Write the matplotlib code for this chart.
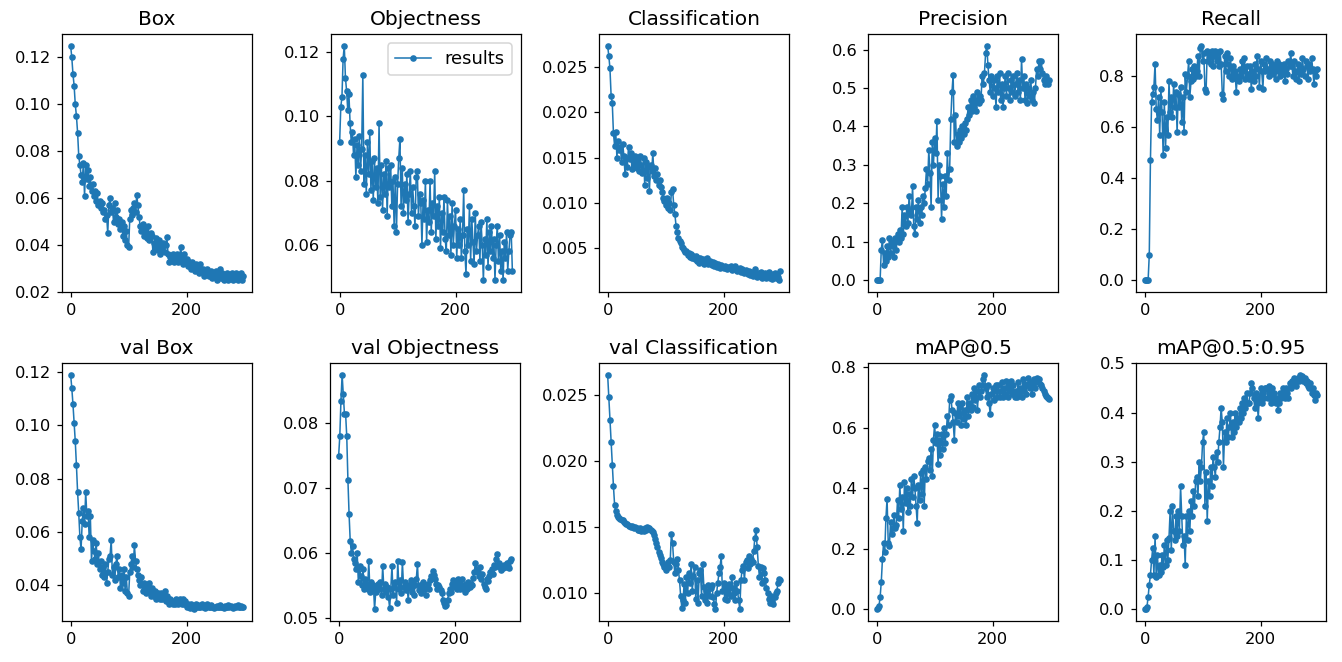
import matplotlib
matplotlib.use("Agg")
import matplotlib.pyplot as plt
from matplotlib.ticker import MultipleLocator

epochs = list(range(0, 300, 2))

titles = ["Box", "Objectness", "Classification", "Precision", "Recall",
          "val Box", "val Objectness", "val Classification", "mAP@0.5", "mAP@0.5:0.95"]

box = [0.125, 0.120, 0.113, 0.108, 0.100, 0.095, 0.088, 0.078, 0.074, 0.070, 0.067, 0.075, 0.061, 0.074, 0.068,
       0.072, 0.065, 0.069, 0.063, 0.066, 0.061, 0.063, 0.059, 0.062, 0.057, 0.059, 0.056, 0.058, 0.054, 0.055,
       0.051, 0.053, 0.045, 0.057, 0.060, 0.054, 0.056, 0.050, 0.058, 0.052, 0.055, 0.049, 0.051, 0.047, 0.050,
       0.044, 0.048, 0.042, 0.046, 0.040, 0.039, 0.051, 0.055, 0.053, 0.056, 0.058, 0.054, 0.0615, 0.057, 0.052,
       0.048, 0.046, 0.049, 0.044, 0.047, 0.045, 0.043, 0.048, 0.042, 0.045, 0.044, 0.037, 0.041, 0.039, 0.043,
       0.038, 0.042, 0.036, 0.040, 0.038, 0.041, 0.037, 0.040, 0.0435, 0.036, 0.033, 0.035, 0.034, 0.036, 0.033,
       0.035, 0.034, 0.036, 0.033, 0.035, 0.039, 0.034, 0.032, 0.036, 0.033, 0.034, 0.031, 0.033, 0.032, 0.030,
       0.033, 0.031, 0.029, 0.032, 0.030, 0.031, 0.028, 0.032, 0.029, 0.030, 0.027, 0.029, 0.028, 0.030, 0.027,
       0.028, 0.029, 0.026, 0.028, 0.027, 0.029, 0.025, 0.028, 0.027, 0.030, 0.026, 0.028, 0.025, 0.027, 0.026,
       0.028, 0.025, 0.027, 0.026, 0.028, 0.025, 0.027, 0.026, 0.028, 0.025, 0.027, 0.026, 0.028, 0.025, 0.027]

objectness = [0.092, 0.103, 0.106, 0.118, 0.122, 0.112, 0.108, 0.102, 0.107, 0.098, 0.092, 0.095, 0.088, 0.093, 0.081,
              0.091, 0.085, 0.094, 0.083, 0.090, 0.113, 0.079, 0.088, 0.076, 0.092, 0.082, 0.095, 0.077, 0.086, 0.074,
              0.087, 0.078, 0.084, 0.073, 0.098, 0.075, 0.085, 0.071, 0.082, 0.076, 0.086, 0.069, 0.084, 0.078, 0.085,
              0.072, 0.080, 0.066, 0.081, 0.064, 0.079, 0.087, 0.093, 0.072, 0.084, 0.070, 0.079, 0.074, 0.082, 0.067,
              0.076, 0.083, 0.070, 0.078, 0.072, 0.066, 0.081, 0.083, 0.069, 0.076, 0.073, 0.060, 0.074, 0.068, 0.080,
              0.061, 0.071, 0.067, 0.080, 0.064, 0.073, 0.069, 0.083, 0.062, 0.072, 0.066, 0.075, 0.059, 0.070, 0.064,
              0.075, 0.062, 0.058, 0.074, 0.063, 0.069, 0.057, 0.073, 0.060, 0.066, 0.071, 0.056, 0.065, 0.060, 0.068,
              0.056, 0.063, 0.077, 0.058, 0.051, 0.065, 0.060, 0.072, 0.055, 0.068, 0.061, 0.054, 0.070, 0.058, 0.063,
              0.066, 0.055, 0.067, 0.060, 0.049, 0.062, 0.057, 0.068, 0.053, 0.064, 0.058, 0.066, 0.056, 0.062, 0.049,
              0.060, 0.066, 0.055, 0.063, 0.052, 0.058, 0.049, 0.061, 0.056, 0.064, 0.052, 0.058, 0.063, 0.064, 0.052]

classification = [0.0273, 0.0262, 0.0248, 0.0218, 0.0210, 0.0177, 0.0163, 0.0178, 0.0150, 0.0168, 0.0158, 0.0162, 0.0145, 0.0165, 0.0152,
                  0.0132, 0.0150, 0.0140, 0.0162, 0.0148, 0.0155, 0.0137, 0.0150, 0.0143, 0.0152, 0.0138, 0.0148, 0.0135, 0.0152, 0.0142,
                  0.0133, 0.0150, 0.0120, 0.0145, 0.0128, 0.0140, 0.0113, 0.0142, 0.0135, 0.0155, 0.0130, 0.0138, 0.0125, 0.0132, 0.0120,
                  0.0125, 0.0118, 0.0112, 0.0106, 0.0102, 0.0098, 0.0105, 0.0095, 0.0100, 0.0092, 0.0112, 0.0115, 0.0098, 0.0088, 0.0075,
                  0.0068, 0.0062, 0.0058, 0.0056, 0.0052, 0.0050, 0.0048, 0.0046, 0.0047, 0.0043, 0.0045, 0.0041, 0.0044, 0.0040, 0.0042,
                  0.0038, 0.0042, 0.0036, 0.0039, 0.0034, 0.0040, 0.0036, 0.0038, 0.0033, 0.0037, 0.0035, 0.0039, 0.0033, 0.0036, 0.0034,
                  0.0032, 0.0035, 0.0031, 0.0034, 0.0030, 0.0033, 0.0031, 0.0029, 0.0032, 0.0030, 0.0028, 0.0031, 0.0029, 0.0027, 0.0030,
                  0.0028, 0.0031, 0.0026, 0.0029, 0.0027, 0.0031, 0.0028, 0.0025, 0.0027, 0.0029, 0.0024, 0.0027, 0.0025, 0.0023, 0.0026,
                  0.0024, 0.0022, 0.0025, 0.0021, 0.0024, 0.0020, 0.0023, 0.0027, 0.0021, 0.0019, 0.0023, 0.0020, 0.0024, 0.0018, 0.0022,
                  0.0019, 0.0023, 0.0017, 0.0021, 0.0024, 0.0018, 0.0022, 0.0016, 0.0020, 0.0023, 0.0017, 0.0021, 0.0019, 0.0015, 0.0025]

precision = [0.0, 0.0, 0.0, 0.0, 0.08, 0.105, 0.04, 0.07, 0.05, 0.09, 0.06, 0.11, 0.07, 0.10, 0.09,
             0.06, 0.11, 0.08, 0.12, 0.10, 0.13, 0.11, 0.19, 0.12, 0.17, 0.14, 0.19, 0.15, 0.22, 0.18,
             0.17, 0.245, 0.14, 0.12, 0.19, 0.16, 0.21, 0.15, 0.19, 0.17, 0.22, 0.20, 0.24, 0.29, 0.25,
             0.34, 0.28, 0.19, 0.36, 0.30, 0.37, 0.33, 0.415, 0.21, 0.30, 0.27, 0.16, 0.25, 0.19, 0.27,
             0.22, 0.33, 0.26, 0.29, 0.42, 0.49, 0.535, 0.36, 0.43, 0.35, 0.38, 0.36, 0.39, 0.37, 0.40,
             0.38, 0.41, 0.39, 0.42, 0.45, 0.43, 0.47, 0.44, 0.48, 0.45, 0.47, 0.44, 0.49, 0.46, 0.48,
             0.47, 0.53, 0.51, 0.54, 0.59, 0.61, 0.56, 0.52, 0.49, 0.53, 0.48, 0.52, 0.50, 0.45, 0.53,
             0.49, 0.54, 0.47, 0.51, 0.45, 0.50, 0.53, 0.48, 0.54, 0.50, 0.47, 0.52, 0.49, 0.53, 0.48,
             0.51, 0.54, 0.49, 0.52, 0.47, 0.575, 0.50, 0.53, 0.47, 0.51, 0.46, 0.50, 0.48, 0.52, 0.47,
             0.49, 0.46, 0.50, 0.55, 0.53, 0.57, 0.55, 0.57, 0.54, 0.52, 0.51, 0.53, 0.52, 0.51, 0.52]

recall = [0.0, 0.0, 0.0, 0.0, 0.10, 0.47, 0.70, 0.73, 0.76, 0.85, 0.67, 0.63, 0.72, 0.57, 0.75,
          0.66, 0.49, 0.70, 0.52, 0.64, 0.57, 0.78, 0.66, 0.72, 0.64, 0.77, 0.68, 0.74, 0.58, 0.73,
          0.68, 0.76, 0.62, 0.72, 0.58, 0.81, 0.74, 0.80, 0.86, 0.72, 0.78, 0.83, 0.79, 0.84, 0.80,
          0.82, 0.88, 0.80, 0.91, 0.92, 0.86, 0.89, 0.75, 0.74, 0.90, 0.86, 0.89, 0.85, 0.90, 0.84,
          0.88, 0.90, 0.86, 0.89, 0.84, 0.90, 0.85, 0.73, 0.71, 0.88, 0.82, 0.89, 0.85, 0.80, 0.87,
          0.79, 0.84, 0.80, 0.82, 0.74, 0.80, 0.78, 0.83, 0.80, 0.86, 0.82, 0.87, 0.79, 0.84, 0.81,
          0.79, 0.84, 0.75, 0.82, 0.78, 0.85, 0.80, 0.88, 0.83, 0.76, 0.86, 0.82, 0.75, 0.85, 0.82,
          0.87, 0.83, 0.80, 0.86, 0.82, 0.85, 0.81, 0.84, 0.79, 0.86, 0.82, 0.85, 0.80, 0.84, 0.81,
          0.85, 0.78, 0.83, 0.81, 0.86, 0.84, 0.89, 0.84, 0.80, 0.86, 0.82, 0.79, 0.85, 0.78, 0.83,
          0.81, 0.87, 0.83, 0.80, 0.86, 0.84, 0.79, 0.85, 0.82, 0.87, 0.83, 0.77, 0.82, 0.80, 0.83]

val_box = [0.119, 0.114, 0.108, 0.101, 0.094, 0.085, 0.075, 0.067, 0.058, 0.0535, 0.064, 0.069, 0.063, 0.075, 0.066,
           0.068, 0.058, 0.066, 0.049, 0.057, 0.053, 0.050, 0.056, 0.048, 0.052, 0.046, 0.049, 0.044, 0.047, 0.043,
           0.048, 0.041, 0.045, 0.050, 0.051, 0.057, 0.044, 0.047, 0.042, 0.048, 0.051, 0.043, 0.046, 0.039, 0.044,
           0.041, 0.046, 0.038, 0.043, 0.037, 0.036, 0.045, 0.048, 0.051, 0.047, 0.055, 0.049, 0.046, 0.044, 0.042,
           0.040, 0.043, 0.038, 0.041, 0.039, 0.037, 0.040, 0.038, 0.041, 0.036, 0.039, 0.037, 0.036, 0.038, 0.035,
           0.037, 0.036, 0.035, 0.037, 0.035, 0.036, 0.038, 0.034, 0.036, 0.034, 0.033, 0.035, 0.034, 0.033, 0.034,
           0.033, 0.035, 0.034, 0.033, 0.035, 0.034, 0.033, 0.035, 0.033, 0.034, 0.032, 0.033, 0.032, 0.0315, 0.033,
           0.032, 0.031, 0.032, 0.033, 0.032, 0.0325, 0.032, 0.0318, 0.033, 0.032, 0.0322, 0.0315, 0.032, 0.033, 0.0318,
           0.032, 0.0325, 0.0318, 0.032, 0.0315, 0.032, 0.0322, 0.0318, 0.032, 0.0325, 0.0318, 0.032, 0.0315, 0.0322, 0.032,
           0.0318, 0.0325, 0.032, 0.0322, 0.0318, 0.0315, 0.032, 0.0322, 0.0318, 0.0325, 0.032, 0.0318, 0.0322, 0.032, 0.0318]

val_objectness = [0.075, 0.078, 0.0835, 0.0875, 0.0845, 0.0815, 0.0815, 0.078, 0.0713, 0.066, 0.0618, 0.060, 0.061, 0.059, 0.0585,
                  0.0575, 0.060, 0.0555, 0.058, 0.0565, 0.055, 0.0575, 0.0545, 0.056, 0.0552, 0.0545, 0.0588, 0.054, 0.0555, 0.0545,
                  0.055, 0.0513, 0.054, 0.0548, 0.0552, 0.0545, 0.0555, 0.0535, 0.058, 0.0545, 0.0552, 0.054, 0.0548, 0.0532, 0.0515,
                  0.0545, 0.058, 0.0535, 0.0548, 0.0555, 0.0522, 0.0588, 0.0545, 0.0558, 0.0538, 0.0586, 0.0548, 0.0555, 0.0542, 0.0550,
                  0.0528, 0.0548, 0.0558, 0.0540, 0.0552, 0.0535, 0.0550, 0.0560, 0.0583, 0.0542, 0.0550, 0.0538, 0.0548, 0.0555, 0.0545,
                  0.0535, 0.0548, 0.0552, 0.0545, 0.0558, 0.0565, 0.0572, 0.0566, 0.0560, 0.0552, 0.0545, 0.0550, 0.0548, 0.0542, 0.0538,
                  0.0528, 0.0522, 0.0518, 0.0520, 0.0528, 0.0538, 0.0545, 0.0540, 0.0552, 0.0558, 0.0548, 0.0556, 0.0545, 0.0560, 0.0552,
                  0.0545, 0.0560, 0.0550, 0.0545, 0.0540, 0.0552, 0.0545, 0.0555, 0.0548, 0.0552, 0.0550, 0.0562, 0.0570, 0.0585, 0.0575,
                  0.0570, 0.0565, 0.0578, 0.0560, 0.0568, 0.0552, 0.0548, 0.0545, 0.0560, 0.0556, 0.0565, 0.0570, 0.0575, 0.0568, 0.0582,
                  0.0578, 0.0590, 0.0598, 0.0585, 0.0578, 0.0574, 0.0580, 0.0576, 0.0582, 0.0578, 0.0585, 0.0580, 0.0576, 0.0588, 0.0590]

val_classification = [0.0265, 0.0248, 0.0231, 0.0214, 0.0197, 0.0181, 0.0167, 0.0162, 0.0159, 0.0158, 0.0157, 0.0156, 0.0155, 0.0155, 0.0154,
                      0.0153, 0.0152, 0.0152, 0.0151, 0.0151, 0.0150, 0.0151, 0.0150, 0.0149, 0.0150, 0.0149, 0.0148, 0.0148, 0.0149, 0.0147,
                      0.0148, 0.0147, 0.0149, 0.0148, 0.0150, 0.0149, 0.0149, 0.0148, 0.0147, 0.0146, 0.0144, 0.0141, 0.0138, 0.0135, 0.0131,
                      0.0129, 0.0127, 0.0124, 0.0122, 0.0120, 0.0118, 0.0121, 0.0124, 0.0120, 0.0125, 0.0145, 0.0138, 0.0124, 0.0115, 0.0122,
                      0.0126, 0.0118, 0.0110, 0.0098, 0.0089, 0.0095, 0.0107, 0.0093, 0.0112, 0.0100, 0.0115, 0.0108, 0.0122, 0.0102, 0.0113,
                      0.0120, 0.0096, 0.0110, 0.0093, 0.0115, 0.0118, 0.0098, 0.0122, 0.0105, 0.0095, 0.0102, 0.0093, 0.0106, 0.0098, 0.0104,
                      0.0106, 0.0097, 0.0092, 0.0088, 0.0100, 0.0108, 0.0115, 0.0120, 0.0128, 0.0102, 0.0108, 0.0096, 0.0104, 0.0095, 0.0100,
                      0.0107, 0.0098, 0.0112, 0.0104, 0.0100, 0.0095, 0.0108, 0.0102, 0.0095, 0.0088, 0.0110, 0.0118, 0.0121, 0.0110, 0.0124,
                      0.0125, 0.0119, 0.0128, 0.0122, 0.0126, 0.0124, 0.0132, 0.0142, 0.0148, 0.0135, 0.0121, 0.0112, 0.0120, 0.0108, 0.0119,
                      0.0115, 0.0110, 0.0104, 0.0100, 0.0096, 0.0093, 0.0098, 0.0094, 0.0092, 0.0097, 0.0100, 0.0102, 0.0108, 0.0111, 0.0110]

map50 = [0.0, 0.003, 0.01, 0.04, 0.09, 0.165, 0.22, 0.19, 0.30, 0.365, 0.22, 0.21, 0.29, 0.25, 0.27,
         0.31, 0.27, 0.28, 0.36, 0.30, 0.41, 0.33, 0.37, 0.26, 0.42, 0.35, 0.40, 0.32, 0.38, 0.34,
         0.43, 0.37, 0.44, 0.40, 0.34, 0.285, 0.41, 0.36, 0.45, 0.38, 0.46, 0.34, 0.47, 0.43, 0.49,
         0.50, 0.46, 0.53, 0.44, 0.56, 0.61, 0.55, 0.58, 0.48, 0.56, 0.51, 0.58, 0.53, 0.60, 0.55,
         0.58, 0.64, 0.61, 0.69, 0.705, 0.66, 0.62, 0.56, 0.65, 0.62, 0.68, 0.64, 0.67, 0.61, 0.68,
         0.63, 0.66, 0.61, 0.70, 0.64, 0.68, 0.66, 0.71, 0.67, 0.73, 0.69, 0.72, 0.66, 0.74, 0.70,
         0.72, 0.74, 0.76, 0.775, 0.73, 0.70, 0.74, 0.68, 0.645, 0.71, 0.73, 0.69, 0.72, 0.74, 0.70,
         0.74, 0.70, 0.72, 0.75, 0.70, 0.73, 0.71, 0.755, 0.70, 0.74, 0.72, 0.755, 0.71, 0.74, 0.70,
         0.72, 0.70, 0.75, 0.71, 0.73, 0.70, 0.76, 0.72, 0.745, 0.71, 0.74, 0.765, 0.73, 0.75, 0.71,
         0.74, 0.76, 0.73, 0.765, 0.75, 0.76, 0.745, 0.74, 0.73, 0.72, 0.71, 0.705, 0.70, 0.698, 0.695]

map5095 = [0.0, 0.0, 0.005, 0.025, 0.05, 0.07, 0.10, 0.125, 0.07, 0.148, 0.065, 0.11, 0.07, 0.09, 0.075,
           0.11, 0.085, 0.13, 0.09, 0.14, 0.10, 0.145, 0.20, 0.12, 0.21, 0.16, 0.14, 0.19, 0.15, 0.20,
           0.16, 0.25, 0.19, 0.13, 0.15, 0.09, 0.19, 0.14, 0.20, 0.16, 0.22, 0.19, 0.24, 0.21, 0.26,
           0.27, 0.23, 0.30, 0.26, 0.29, 0.34, 0.36, 0.21, 0.28, 0.18, 0.26, 0.23, 0.29, 0.25, 0.31,
           0.29, 0.27, 0.32, 0.30, 0.34, 0.37, 0.41, 0.38, 0.29, 0.36, 0.34, 0.39, 0.35, 0.37, 0.40,
           0.35, 0.38, 0.36, 0.40, 0.37, 0.39, 0.38, 0.41, 0.39, 0.42, 0.40, 0.43, 0.41, 0.44, 0.42,
           0.42, 0.44, 0.46, 0.45, 0.43, 0.41, 0.44, 0.42, 0.39, 0.43, 0.45, 0.42, 0.44, 0.43, 0.45,
           0.45, 0.43, 0.455, 0.44, 0.42, 0.45, 0.43, 0.44, 0.42, 0.43, 0.405, 0.42, 0.44, 0.43, 0.45,
           0.44, 0.43, 0.45, 0.44, 0.43, 0.46, 0.45, 0.465, 0.46, 0.47, 0.465, 0.455, 0.47, 0.465, 0.477,
           0.47, 0.475, 0.465, 0.47, 0.46, 0.465, 0.455, 0.45, 0.46, 0.44, 0.45, 0.435, 0.425, 0.44, 0.435]

series = [box, objectness, classification, precision, recall,
          val_box, val_objectness, val_classification, map50, map5095]

W, H = 1342, 662
DPI = 111.83
fig = plt.figure(figsize=(W / DPI, H / DPI), dpi=DPI)

lefts = [[62, 331, 599, 868, 1136], [62, 330, 599, 868, 1136]]
tops = [34, 363]
aw, ah = 190, 258
ytick_steps = {6: 0.01, 7: 0.005}

for i, (t, y) in enumerate(zip(titles, series)):
    r, c = divmod(i, 5)
    l = lefts[r][c]
    top = tops[r]
    ax = fig.add_axes([l / W, (H - top - ah) / H, aw / W, ah / H])
    ax.plot(epochs, y, marker='.', label='results', linewidth=1, markersize=6.5, color='#1f77b4')
    ax.set_title(t, fontsize=13)
    ax.tick_params(labelsize=10.5)
    ax.set_xticks([0, 200])
    if i in ytick_steps:
        ax.yaxis.set_major_locator(MultipleLocator(ytick_steps[i]))
    if i == 1:
        ax.legend(loc='upper right', fontsize=11.5)

fig.savefig("out.png", dpi=DPI)
